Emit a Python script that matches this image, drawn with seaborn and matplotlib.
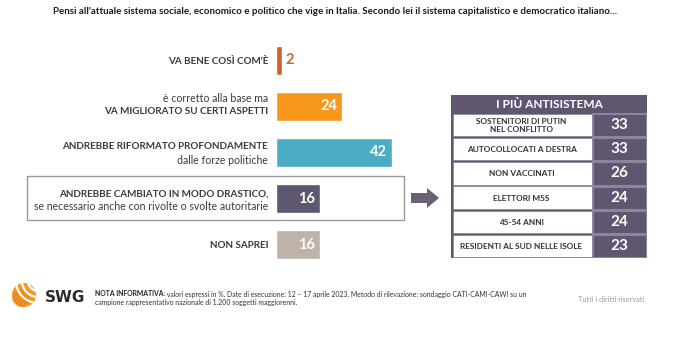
import numpy as np
import pandas as pd
import matplotlib
matplotlib.use("Agg")
import matplotlib.pyplot as plt
import seaborn as sns
from matplotlib.patches import Rectangle, FancyArrow, Circle, Arc
from matplotlib.colors import ListedColormap
from matplotlib import font_manager

# ---------------- data ----------------
title = ("Pensi all'attuale sistema sociale, economico e politico che vige in Italia. "
         "Secondo lei il sistema capitalistico e democratico italiano...")
categories = ["VA BENE COSÌ COM'È",
              "VA MIGLIORATO SU CERTI ASPETTI",
              "ANDREBBE RIFORMATO PROFONDAMENTE",
              "ANDREBBE CAMBIATO IN MODO DRASTICO,",
              "NON SAPREI"]
sub_labels = ["", "è corretto alla base ma", "dalle forze politiche",
              "se necessario anche con rivolte o svolte autoritarie", ""]
sub_first = [False, True, False, False, False]   # sub label drawn above the bold one
values = [2, 24, 42, 16, 16]
colors = ["#C8642C", "#F7981D", "#4BACC6", "#5F5670", "#BEB3AA"]

table_title = "I PIÙ ANTISISTEMA"
table_labels = ["SOSTENITORI DI PUTIN\nNEL CONFLITTO", "AUTOCOLLOCATI A DESTRA",
                "NON VACCINATI", "ELETTORI M5S", "45-54 ANNI",
                "RESIDENTI AL SUD NELLE ISOLE"]
table_values = [33, 33, 26, 24, 24, 23]

note_bold = "NOTA INFORMATIVA:"
note_line1 = (" valori espressi in %. Date di esecuzione: 12 – 17 aprile 2023. Metodo di "
              "rilevazione: sondaggio CATI-CAMI-CAWI su un")
note_line2 = "campione rappresentativo nazionale di 1.200 soggetti maggiorenni."
rights = "Tutti i diritti riservati"

# ---------------- style ----------------
sns.set_theme(style="white")
fams = {f.name for f in font_manager.fontManager.ttflist}
FONT = "Lato" if "Lato" in fams else "DejaVu Sans"
plt.rcParams["font.family"] = [FONT, "DejaVu Sans"]

W, H = 680, 348
fig = plt.figure(figsize=(W / 100, H / 100), dpi=100)
fig.patch.set_facecolor("white")
renderer = fig.canvas.get_renderer()


def box(x0, y0, x1, y1):
    return [x0 / W, 1 - y1 / H, (x1 - x0) / W, (y1 - y0) / H]


def fit(t, target):
    w = t.get_window_extent(renderer).width
    t.set_fontsize(t.get_fontsize() * target / w)
    return t


PT = 0.72  # px -> points at 100 dpi

# overlay axes in pixel coordinates (decorations)
ov = fig.add_axes([0, 0, 1, 1], zorder=0)
ov.set_xlim(0, W)
ov.set_ylim(H, 0)
ov.axis("off")

# title
t = ov.text(335, 12, title, ha="center", va="center", fontweight="bold",
            fontsize=8, color="#1a1a1a")
fit(t, 566)

# highlight box around drastic row and arrow
ov.add_patch(Rectangle((27, 176), 377, 44, facecolor="white",
                       edgecolor="#9a9a9a", lw=1.0))
ov.add_patch(FancyArrow(411, 198, 16, 0, width=10, head_width=20,
                        head_length=12, length_includes_head=False,
                        color="#6A6177", lw=0))

# ---------------- main bar chart ----------------
ax = fig.add_axes(box(276, 37, 414, 268), zorder=2)
ax.set_facecolor("none")
df = pd.DataFrame({"cat": categories, "value": values})
sns.barplot(data=df, x="value", y="cat", hue="cat", palette=colors,
            legend=False, width=0.63, saturation=1, ax=ax, orient="h")
ax.set_xlim(0, 50)
ax.set_ylim(4.5, -0.5)
ax.axis("off")

lab_color = "#3b3b3b"
bold_fs = 8
norm_fs = 8
# fit sizes on reference strings
tb = ax.annotate(categories[3], xy=(0, 3), xytext=(-8 * PT, 0),
                 textcoords="offset points", ha="right", va="center",
                 fontweight="bold", fontsize=8, color=lab_color)
bold_fs = fit(tb, 209).get_fontsize()
tb.remove()
tn = ax.annotate(sub_labels[3], xy=(0, 3), xytext=(-8 * PT, 0),
                 textcoords="offset points", ha="right", va="center",
                 fontsize=8, color=lab_color)
norm_fs = fit(tn, 236).get_fontsize()
tn.remove()

offsets = {1: (-8, 5), 2: (-6, 8), 3: (-5, 8)}
for i, (cat, sub) in enumerate(zip(categories, sub_labels)):
    if not sub:
        ax.annotate(cat, xy=(0, i), xytext=(-8 * PT, -1 * PT),
                    textcoords="offset points", ha="right", va="center",
                    fontweight="bold", fontsize=bold_fs, color=lab_color)
        continue
    up, down = offsets[i]
    if sub_first[i]:
        first, fw1, second, fw2 = sub, "normal", cat, "bold"
    else:
        first, fw1, second, fw2 = cat, "bold", sub, "normal"
    ax.annotate(first, xy=(0, i), xytext=(-8 * PT, -up * PT),
                textcoords="offset points", ha="right", va="center",
                fontweight=fw1, fontsize=bold_fs if fw1 == "bold" else norm_fs,
                color=lab_color)
    ax.annotate(second, xy=(0, i), xytext=(-8 * PT, -down * PT),
                textcoords="offset points", ha="right", va="center",
                fontweight=fw2, fontsize=bold_fs if fw2 == "bold" else norm_fs,
                color=lab_color)

for i, v in enumerate(values):
    if v < 5:
        ax.annotate(str(v), xy=(v, i), xytext=(4 * PT, 0),
                    textcoords="offset points", ha="left", va="center",
                    fontweight="bold", fontsize=10.5, color=colors[i])
    else:
        ax.annotate(str(v), xy=(v, i), xytext=(-5 * PT, 0),
                    textcoords="offset points", ha="right", va="center",
                    fontweight="bold", fontsize=10.5, color="white")

# ---------------- side table ----------------
PURPLE = "#5F5670"
ov.add_patch(Rectangle((451, 95), 196, 163, facecolor=PURPLE, lw=0))
ov.text(549, 104.5, table_title, ha="center", va="center", color="white",
        fontweight="bold", fontsize=8.5)

axl = fig.add_axes(box(451, 113, 592, 258), zorder=2)
axl.set_facecolor("none")
axl.set_xlim(0, 1)
axl.set_ylim(len(table_labels), 0)
axl.axis("off")
fs_tab = None
for i, lab in enumerate(table_labels):
    axl.add_patch(Rectangle((0.015, i + 0.04), 0.985, 0.92,
                            facecolor="white", edgecolor="#8f889a", lw=0.6))
    tt = axl.text(0.5, i + 0.52, lab, ha="center", va="center",
                  fontweight="bold", fontsize=7, color="#333333",
                  linespacing=1.15)
    if lab == "RESIDENTI AL SUD NELLE ISOLE":
        fs_tab = fit(tt, 124).get_fontsize()
for tt in axl.texts:
    tt.set_fontsize(fs_tab)

axv = fig.add_axes(box(592, 113, 647, 258), zorder=2)
sns.heatmap(np.array(table_values).reshape(-1, 1), ax=axv,
            cmap=ListedColormap([PURPLE]), cbar=False, annot=True, fmt="d",
            linewidths=0.8, linecolor="#8c8498",
            annot_kws={"color": "white", "fontweight": "bold", "fontsize": 11})
axv.set_xticks([])
axv.set_yticks([])
for s in axv.spines.values():
    s.set_visible(False)

# ---------------- footer ----------------
cx, cy, r = 24, 295, 12
ov.add_patch(Circle((cx, cy), r, facecolor="#F39A1E", edgecolor="none"))
ov.add_patch(Circle((cx - 3, cy + 3), r * 0.75, facecolor="#E8801A",
                    edgecolor="none", alpha=0.5))
clip = Circle((cx, cy), r, transform=ov.transData)
for k, rr in enumerate([10, 16, 22]):
    a = Arc((cx + 14, cy - 14), 2 * rr, 2 * rr, angle=0, theta1=90, theta2=270,
            color="white", lw=1.6)
    ov.add_patch(a)
    a.set_clip_path(clip)
ov.text(45, 298, "SWG", ha="left", va="center", fontweight="bold",
        fontsize=11, color="#2a2a2a", family=["DejaVu Sans"])

nb = ov.text(95, 294, note_bold, ha="left", va="center", fontweight="bold",
             fontsize=5.5, color="#222222")
fig.canvas.draw()
ext = nb.get_window_extent(renderer)
xb = ext.x1  # display px
nl = ov.text(xb, 294, note_line1, ha="left", va="center", fontsize=5.5,
             color="#333333")
# fit whole first line to target
tot = ext.width + nl.get_window_extent(renderer).width
scale = 432 / tot
nb.set_fontsize(5.5 * scale)
nl.set_fontsize(5.5 * scale)
ext = nb.get_window_extent(renderer)
nl.set_x(95 + ext.width)
ov.text(95, 303, note_line2, ha="left", va="center", fontsize=5.5 * scale,
        color="#333333")
rt = ov.text(578, 299, rights, ha="left", va="center", fontsize=5.5,
             color="#9a9a9a")
fit(rt, 67)

fig.savefig("out.png", dpi=100, facecolor="white")
